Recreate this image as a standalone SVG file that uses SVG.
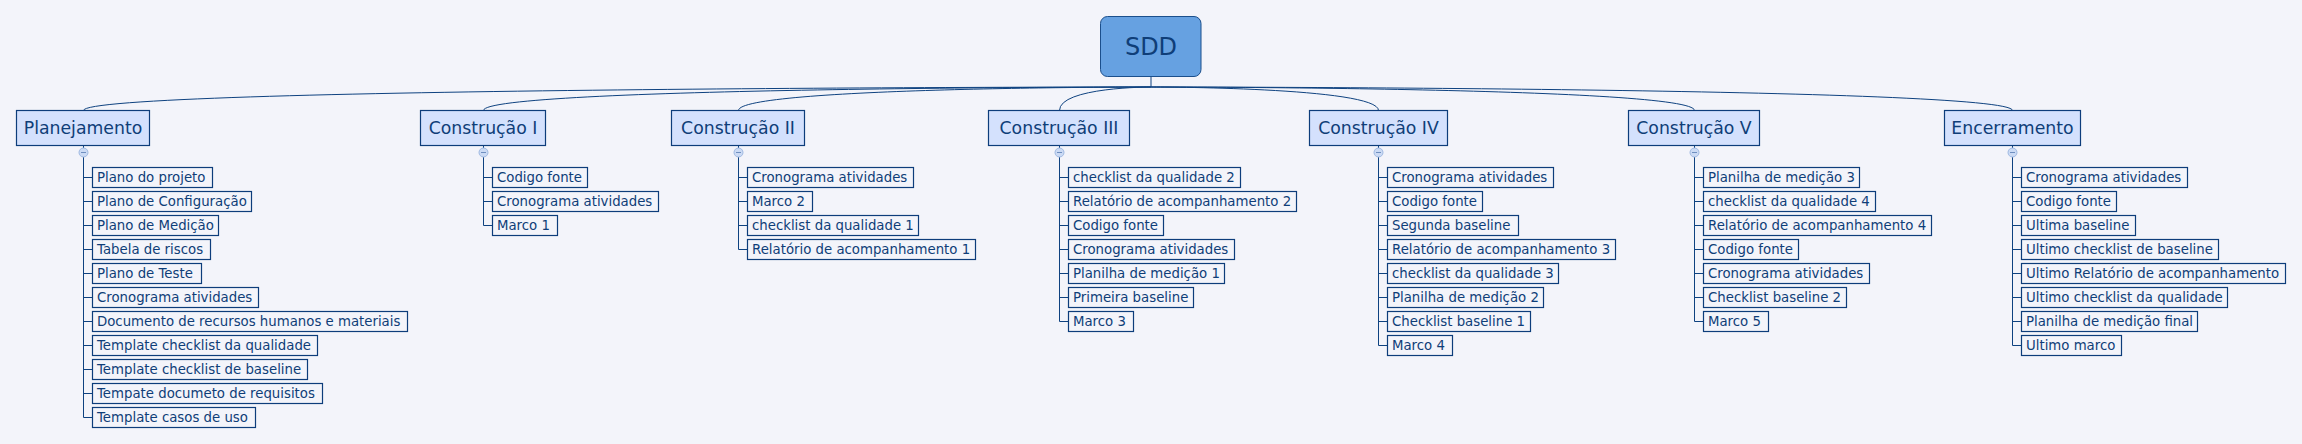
<svg xmlns="http://www.w3.org/2000/svg" width="2302" height="444" viewBox="0 0 2302 444">
<style>
text{font-family:"DejaVu Sans",Verdana,"Liberation Sans",sans-serif;fill:#0f3e78}
.root rect{fill:#66a1e1;stroke:#1b4f8c;stroke-width:1}
.root text{font-size:24px;text-anchor:middle}
.topic rect{fill:#d4e1fd;stroke:#0d3d7b;stroke-width:1.2}
.topic text{font-size:17.3px;text-anchor:middle}
.sub rect{fill:#f3f4fa;stroke:#0d3d7b;stroke-width:1.2}
.sub text{font-size:13.3px}
.conn path{fill:none;stroke:#0e4280;stroke-width:1}
.tog circle{fill:#cbdaf4;stroke:#9fb9e2;stroke-width:1}
.tog path{stroke:#6f8fc0;stroke-width:1}
</style>
<rect width="2302" height="444" fill="#f3f4fa"/>
<g id="connectors" class="conn">
<path d="M1151 76.5V87"/>
<path d="M1151 87C1151 87 83.5 87 83.5 110.5"/>
<path d="M1151 87C1151 87 483.5 87 483.5 110.5"/>
<path d="M1151 87C1151 87 738.5 87 738.5 110.5"/>
<path d="M1151 87C1151 87 1059.5 87 1059.5 110.5"/>
<path d="M1151 87C1151 87 1378.5 87 1378.5 110.5"/>
<path d="M1151 87C1151 87 1694.5 87 1694.5 110.5"/>
<path d="M1151 87C1151 87 2012.5 87 2012.5 110.5"/>
<path d="M83.5 145.5V148M483.5 145.5V148M738.5 145.5V148M1059.5 145.5V148M1378.5 145.5V148M1694.5 145.5V148M2012.5 145.5V148"/>
<path d="M83.5 157V177.5H92.5M83.5 157V201.5H92.5M83.5 157V225.5H92.5M83.5 157V249.5H92.5M83.5 157V273.5H92.5M83.5 157V297.5H92.5M83.5 157V321.5H92.5M83.5 157V345.5H92.5M83.5 157V369.5H92.5M83.5 157V393.5H92.5M83.5 157V417.5H92.5"/>
<path d="M483.5 157V177.5H492.5M483.5 157V201.5H492.5M483.5 157V225.5H492.5"/>
<path d="M738.5 157V177.5H747.5M738.5 157V201.5H747.5M738.5 157V225.5H747.5M738.5 157V249.5H747.5"/>
<path d="M1059.5 157V177.5H1068.5M1059.5 157V201.5H1068.5M1059.5 157V225.5H1068.5M1059.5 157V249.5H1068.5M1059.5 157V273.5H1068.5M1059.5 157V297.5H1068.5M1059.5 157V321.5H1068.5"/>
<path d="M1378.5 157V177.5H1387.5M1378.5 157V201.5H1387.5M1378.5 157V225.5H1387.5M1378.5 157V249.5H1387.5M1378.5 157V273.5H1387.5M1378.5 157V297.5H1387.5M1378.5 157V321.5H1387.5M1378.5 157V345.5H1387.5"/>
<path d="M1694.5 157V177.5H1703.5M1694.5 157V201.5H1703.5M1694.5 157V225.5H1703.5M1694.5 157V249.5H1703.5M1694.5 157V273.5H1703.5M1694.5 157V297.5H1703.5M1694.5 157V321.5H1703.5"/>
<path d="M2012.5 157V177.5H2021.5M2012.5 157V201.5H2021.5M2012.5 157V225.5H2021.5M2012.5 157V249.5H2021.5M2012.5 157V273.5H2021.5M2012.5 157V297.5H2021.5M2012.5 157V321.5H2021.5M2012.5 157V345.5H2021.5"/>
</g>
<g id="toggles" class="tog">
<circle cx="83.5" cy="152.5" r="4.5"/><path d="M81 152.5H86"/>
<circle cx="483.5" cy="152.5" r="4.5"/><path d="M481 152.5H486"/>
<circle cx="738.5" cy="152.5" r="4.5"/><path d="M736 152.5H741"/>
<circle cx="1059.5" cy="152.5" r="4.5"/><path d="M1057 152.5H1062"/>
<circle cx="1378.5" cy="152.5" r="4.5"/><path d="M1376 152.5H1381"/>
<circle cx="1694.5" cy="152.5" r="4.5"/><path d="M1692 152.5H1697"/>
<circle cx="2012.5" cy="152.5" r="4.5"/><path d="M2010 152.5H2015"/>
</g>
<g id="root" class="root"><rect x="1100.5" y="16.5" width="100.5" height="60" rx="7"/><text x="1151" y="55">SDD</text></g>
<g id="planejamento" class="topic"><rect x="16.5" y="110.5" width="133" height="35"/><text x="83" y="133.5">Planejamento</text></g>
<g id="construcao1" class="topic"><rect x="420.5" y="110.5" width="125" height="35"/><text x="483" y="133.5">Construção I</text></g>
<g id="construcao2" class="topic"><rect x="671.5" y="110.5" width="133" height="35"/><text x="738" y="133.5">Construção II</text></g>
<g id="construcao3" class="topic"><rect x="988.5" y="110.5" width="141" height="35"/><text x="1059" y="133.5">Construção III</text></g>
<g id="construcao4" class="topic"><rect x="1309.5" y="110.5" width="138" height="35"/><text x="1378.5" y="133.5">Construção IV</text></g>
<g id="construcao5" class="topic"><rect x="1628.5" y="110.5" width="131" height="35"/><text x="1694" y="133.5">Construção V</text></g>
<g id="encerramento" class="topic"><rect x="1944.5" y="110.5" width="136" height="35"/><text x="2012.5" y="133.5">Encerramento</text></g>

<g id="p1" class="sub"><rect x="92.5" y="167.5" width="120" height="20"/><text x="97" y="181.8">Plano do projeto</text></g>
<g id="p2" class="sub"><rect x="92.5" y="191.5" width="159" height="20"/><text x="97" y="205.8">Plano de Configuração</text></g>
<g id="p3" class="sub"><rect x="92.5" y="215.5" width="126" height="20"/><text x="97" y="229.8">Plano de Medição</text></g>
<g id="p4" class="sub"><rect x="92.5" y="239.5" width="118" height="20"/><text x="97" y="253.8">Tabela de riscos</text></g>
<g id="p5" class="sub"><rect x="92.5" y="263.5" width="109" height="20"/><text x="97" y="277.8">Plano de Teste</text></g>
<g id="p6" class="sub"><rect x="92.5" y="287.5" width="166" height="20"/><text x="97" y="301.8">Cronograma atividades</text></g>
<g id="p7" class="sub"><rect x="92.5" y="311.5" width="315" height="20"/><text x="97" y="325.8">Documento de recursos humanos e materiais</text></g>
<g id="p8" class="sub"><rect x="92.5" y="335.5" width="225" height="20"/><text x="97" y="349.8">Template checklist da qualidade</text></g>
<g id="p9" class="sub"><rect x="92.5" y="359.5" width="215" height="20"/><text x="97" y="373.8">Template checklist de baseline</text></g>
<g id="p10" class="sub"><rect x="92.5" y="383.5" width="230" height="20"/><text x="97" y="397.8">Tempate documeto de requisitos</text></g>
<g id="p11" class="sub"><rect x="92.5" y="407.5" width="163" height="20"/><text x="97" y="421.8">Template casos de uso</text></g>

<g id="c1a" class="sub"><rect x="492.5" y="167.5" width="95" height="20"/><text x="497" y="181.8">Codigo fonte</text></g>
<g id="c1b" class="sub"><rect x="492.5" y="191.5" width="166" height="20"/><text x="497" y="205.8">Cronograma atividades</text></g>
<g id="c1c" class="sub"><rect x="492.5" y="215.5" width="65" height="20"/><text x="497" y="229.8">Marco 1</text></g>

<g id="c2a" class="sub"><rect x="747.5" y="167.5" width="166" height="20"/><text x="752" y="181.8">Cronograma atividades</text></g>
<g id="c2b" class="sub"><rect x="747.5" y="191.5" width="65" height="20"/><text x="752" y="205.8">Marco 2</text></g>
<g id="c2c" class="sub"><rect x="747.5" y="215.5" width="171" height="20"/><text x="752" y="229.8">checklist da qualidade 1</text></g>
<g id="c2d" class="sub"><rect x="747.5" y="239.5" width="228" height="20"/><text x="752" y="253.8">Relatório de acompanhamento 1</text></g>

<g id="c3a" class="sub"><rect x="1068.5" y="167.5" width="172" height="20"/><text x="1073" y="181.8">checklist da qualidade 2</text></g>
<g id="c3b" class="sub"><rect x="1068.5" y="191.5" width="228" height="20"/><text x="1073" y="205.8">Relatório de acompanhamento 2</text></g>
<g id="c3c" class="sub"><rect x="1068.5" y="215.5" width="95" height="20"/><text x="1073" y="229.8">Codigo fonte</text></g>
<g id="c3d" class="sub"><rect x="1068.5" y="239.5" width="166" height="20"/><text x="1073" y="253.8">Cronograma atividades</text></g>
<g id="c3e" class="sub"><rect x="1068.5" y="263.5" width="156" height="20"/><text x="1073" y="277.8">Planilha de medição 1</text></g>
<g id="c3f" class="sub"><rect x="1068.5" y="287.5" width="125" height="20"/><text x="1073" y="301.8">Primeira baseline</text></g>
<g id="c3g" class="sub"><rect x="1068.5" y="311.5" width="65" height="20"/><text x="1073" y="325.8">Marco 3</text></g>

<g id="c4a" class="sub"><rect x="1387.5" y="167.5" width="166" height="20"/><text x="1392" y="181.8">Cronograma atividades</text></g>
<g id="c4b" class="sub"><rect x="1387.5" y="191.5" width="95" height="20"/><text x="1392" y="205.8">Codigo fonte</text></g>
<g id="c4c" class="sub"><rect x="1387.5" y="215.5" width="131" height="20"/><text x="1392" y="229.8">Segunda baseline</text></g>
<g id="c4d" class="sub"><rect x="1387.5" y="239.5" width="228" height="20"/><text x="1392" y="253.8">Relatório de acompanhamento 3</text></g>
<g id="c4e" class="sub"><rect x="1387.5" y="263.5" width="171" height="20"/><text x="1392" y="277.8">checklist da qualidade 3</text></g>
<g id="c4f" class="sub"><rect x="1387.5" y="287.5" width="156" height="20"/><text x="1392" y="301.8">Planilha de medição 2</text></g>
<g id="c4g" class="sub"><rect x="1387.5" y="311.5" width="143" height="20"/><text x="1392" y="325.8">Checklist baseline 1</text></g>
<g id="c4h" class="sub"><rect x="1387.5" y="335.5" width="65" height="20"/><text x="1392" y="349.8">Marco 4</text></g>

<g id="c5a" class="sub"><rect x="1703.5" y="167.5" width="156" height="20"/><text x="1708" y="181.8">Planilha de medição 3</text></g>
<g id="c5b" class="sub"><rect x="1703.5" y="191.5" width="172" height="20"/><text x="1708" y="205.8">checklist da qualidade 4</text></g>
<g id="c5c" class="sub"><rect x="1703.5" y="215.5" width="228" height="20"/><text x="1708" y="229.8">Relatório de acompanhamento 4</text></g>
<g id="c5d" class="sub"><rect x="1703.5" y="239.5" width="95" height="20"/><text x="1708" y="253.8">Codigo fonte</text></g>
<g id="c5e" class="sub"><rect x="1703.5" y="263.5" width="166" height="20"/><text x="1708" y="277.8">Cronograma atividades</text></g>
<g id="c5f" class="sub"><rect x="1703.5" y="287.5" width="143" height="20"/><text x="1708" y="301.8">Checklist baseline 2</text></g>
<g id="c5g" class="sub"><rect x="1703.5" y="311.5" width="65" height="20"/><text x="1708" y="325.8">Marco 5</text></g>

<g id="e1" class="sub"><rect x="2021.5" y="167.5" width="166" height="20"/><text x="2026" y="181.8">Cronograma atividades</text></g>
<g id="e2" class="sub"><rect x="2021.5" y="191.5" width="95" height="20"/><text x="2026" y="205.8">Codigo fonte</text></g>
<g id="e3" class="sub"><rect x="2021.5" y="215.5" width="114" height="20"/><text x="2026" y="229.8">Ultima baseline</text></g>
<g id="e4" class="sub"><rect x="2021.5" y="239.5" width="197" height="20"/><text x="2026" y="253.8">Ultimo checklist de baseline</text></g>
<g id="e5" class="sub"><rect x="2021.5" y="263.5" width="264" height="20"/><text x="2026" y="277.8">Ultimo Relatório de acompanhamento</text></g>
<g id="e6" class="sub"><rect x="2021.5" y="287.5" width="206" height="20"/><text x="2026" y="301.8">Ultimo checklist da qualidade</text></g>
<g id="e7" class="sub"><rect x="2021.5" y="311.5" width="176" height="20"/><text x="2026" y="325.8">Planilha de medição final</text></g>
<g id="e8" class="sub"><rect x="2021.5" y="335.5" width="100" height="20"/><text x="2026" y="349.8">Ultimo marco</text></g>
</svg>
